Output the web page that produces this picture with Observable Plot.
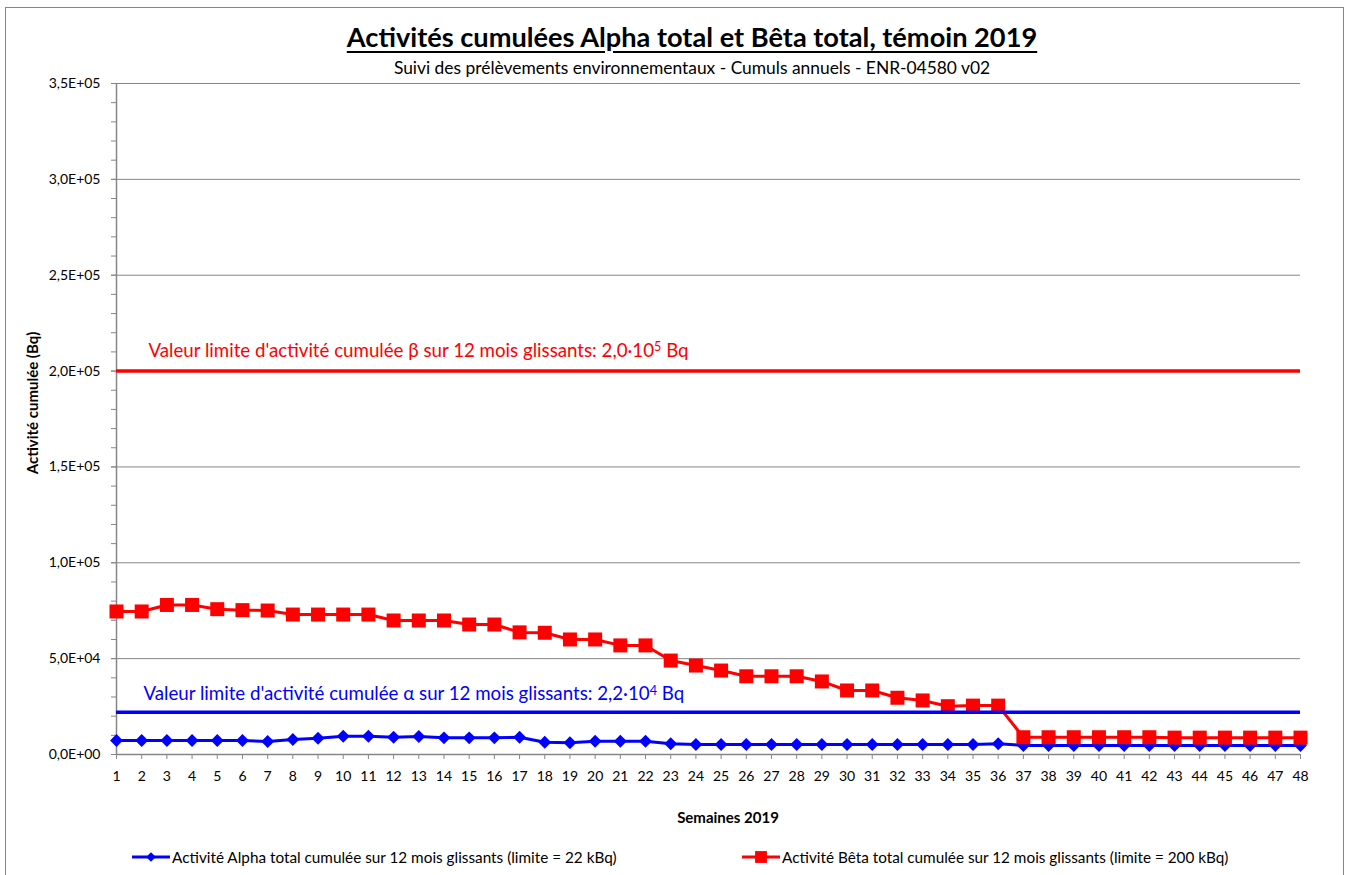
<!DOCTYPE html>
<html>
<head>
<meta charset="utf-8">
<script src="https://cdn.jsdelivr.net/npm/d3@7"></script>
<script src="https://cdn.jsdelivr.net/npm/@observablehq/plot@0.6"></script>
<style>
  html, body { margin: 0; padding: 0; background: #fff; width: 1350px; height: 875px; overflow: hidden; }
  body { position: relative; font-family: Lato, "Open Sans", sans-serif; color: #000; }
  .frame { position: absolute; left: 5px; top: 7px; width: 1339px; height: 900px; border: 1px solid #868686; box-sizing: border-box; }
  .abs { position: absolute; white-space: nowrap; }
  #title { left: 0; width: 1384px; top: 21px; text-align: center; font-weight: bold; font-size: 27.2px; line-height: 32px; text-decoration: underline; text-underline-offset: 4px; text-decoration-thickness: 2px; }
  #subtitle { left: 0; width: 1384px; top: 57px; text-align: center; font-size: 17.4px; line-height: 22px; }
  #chart { left: 0; top: 60px; }
  #xlabel { left: 628px; width: 200px; top: 807px; text-align: center; font-weight: bold; font-size: 15px; line-height: 20px; }
  #ylabel { left: 32px; top: 403px; transform: translate(-50%, -50%) rotate(-90deg); font-weight: bold; font-size: 15px; line-height: 20px; }
  .leg { top: 847px; font-size: 15.3px; line-height: 20px; display: flex; align-items: center; }
  .leg svg { margin-right: 1px; }
</style>
</head>
<body>
<div class="frame"></div>
<div id="title" class="abs"></div>
<div id="subtitle" class="abs"></div>
<div id="chart" class="abs"></div>
<div id="xlabel" class="abs"></div>
<div id="ylabel" class="abs"></div>
<div id="legAlpha" class="abs leg" style="left:131px"></div>
<div id="legBeta" class="abs leg" style="left:741px"></div>
<script>
// ---- data ----
const weeks = [1,2,3,4,5,6,7,8,9,10,11,12,13,14,15,16,17,18,19,20,21,22,23,24,
               25,26,27,28,29,30,31,32,33,34,35,36,37,38,39,40,41,42,43,44,45,46,47,48];
const alpha = [7300,7300,7300,7300,7300,7300,6800,7800,8500,9500,9500,9000,9400,8700,8700,8700,9000,6400,
               6100,6900,6900,6900,5600,5200,5200,5200,5200,5200,5200,5200,5200,5200,5200,5200,5200,5600,
               4700,4700,4700,4700,4700,4700,4700,4700,4700,4700,4700,4700];
const beta = [74600,74600,78000,78000,75800,75300,75100,73000,73000,73000,73000,69900,69900,69900,67800,67800,
              63700,63500,60000,60000,56900,56900,49000,46400,43800,40800,40800,40800,38100,33400,33400,29600,
              28200,25200,25500,25500,9000,9000,9000,9000,9000,9000,8800,8800,8800,8800,8800,8800];
const alphaLimit = 22000;
const betaLimit = 200000;
const yTicks = [0,50000,100000,150000,200000,250000,300000,350000];
const yTickLabels = ["0,0E+00","5,0E+04","1,0E+05","1,5E+05","2,0E+05","2,5E+05","3,0E+05","3,5E+05"];
const yMinorTicks = d3.range(0, 350001, 10000);

const titleText = "Activités cumulées Alpha total et Bêta total, témoin 2019";
const subtitleText = "Suivi des prélèvements environnementaux - Cumuls annuels - ENR-04580 v02";
const xLabel = "Semaines 2019";
const yLabel = "Activité cumulée (Bq)";
const alphaSeriesName = "Activité Alpha total cumulée sur 12 mois glissants (limite = 22 kBq)";
const betaSeriesName = "Activité Bêta total cumulée sur 12 mois glissants (limite = 200 kBq)";
const alphaLimitLabel = ["Valeur limite d'activité cumulée α sur 12 mois glissants: 2,2·10", "4", " Bq"];
const betaLimitLabel = ["Valeur limite d'activité cumulée β sur 12 mois glissants: 2,0·10", "5", " Bq"];

const RED = "#ff0000", BLUE = "#0000ff", GRAY = "#868686";
const rows = weeks.map((w, i) => ({week: w, alpha: alpha[i], beta: beta[i]}));

document.getElementById("title").textContent = titleText;
document.getElementById("subtitle").textContent = subtitleText;
document.getElementById("xlabel").textContent = xLabel;
document.getElementById("ylabel").textContent = yLabel;

const chart = Plot.plot({
  width: 1350,
  height: 770,
  marginLeft: 116,
  marginRight: 50,
  marginTop: 23,
  marginBottom: 76,
  x: {type: "linear", domain: [weeks[0], weeks[weeks.length - 1]]},
  y: {type: "linear", domain: [0, 350000]},
  style: {fontFamily: "Lato, 'Open Sans', sans-serif", fontSize: "14px", color: "#000", background: "transparent", overflow: "visible"},
  marks: [
    Plot.ruleY(yTicks.slice(1), {stroke: GRAY, strokeWidth: 1}),
    Plot.axisY({ticks: yMinorTicks, tickSize: 5, text: null, stroke: GRAY, label: null}),
    Plot.axisY({ticks: yTicks, tickSize: 5, tickPadding: 11, stroke: GRAY, label: null,
                tickFormat: d => yTickLabels[yTicks.indexOf(d)]}),
    Plot.axisX({ticks: weeks, tickSize: 5, tickPadding: 12, stroke: GRAY, label: null, tickFormat: d => String(d)}),
    Plot.ruleX([weeks[0]], {stroke: GRAY, strokeWidth: 1.5}),
    Plot.ruleY([0], {stroke: GRAY, strokeWidth: 1.5}),
    Plot.line(rows, {x: "week", y: "alpha", stroke: BLUE, strokeWidth: 3}),
    Plot.dot(rows, {x: "week", y: "alpha", symbol: "diamond2", r: 5.8, fill: BLUE, stroke: "none"}),
    Plot.line(rows, {x: "week", y: "beta", stroke: RED, strokeWidth: 3}),
    Plot.dot(rows, {x: "week", y: "beta", symbol: "square", r: 7.9, fill: RED, stroke: "none"}),
    Plot.ruleY([betaLimit], {x1: weeks[0], x2: weeks[weeks.length - 1], stroke: RED, strokeWidth: 3.5}),
    Plot.ruleY([alphaLimit], {x1: weeks[0], x2: weeks[weeks.length - 1], stroke: BLUE, strokeWidth: 3.5}),
    Plot.text([betaLimit], {x: weeks[0], y: d => d, text: () => betaLimitLabel.join("^"), dx: 32, dy: -20,
                            textAnchor: "start", fill: RED, fontSize: 18.7}),
    Plot.text([alphaLimit], {x: weeks[0], y: d => d, text: () => alphaLimitLabel.join("^"), dx: 27, dy: -18,
                             textAnchor: "start", fill: BLUE, fontSize: 18.7})
  ]
});
// render exponents as superscripts (real text kept)
d3.select(chart).selectAll("text").each(function () {
  const t = this.textContent;
  if (t.includes("^")) {
    const [a, e, b] = t.split("^");
    const sel = d3.select(this);
    sel.text(null);
    sel.append("tspan").text(a);
    sel.append("tspan").attr("dy", "-0.45em").attr("font-size", "0.68em").text(e);
    sel.append("tspan").attr("dy", "0.306em").text(b);
  }
});
document.getElementById("chart").appendChild(chart);

function legendSymbol(color, symbol, size) {
  const svg = d3.create("svg").attr("width", 40).attr("height", 16);
  svg.append("line").attr("x1", 1).attr("x2", 39).attr("y1", 8).attr("y2", 8)
     .attr("stroke", color).attr("stroke-width", 3);
  svg.append("path").attr("transform", "translate(20,8)")
     .attr("d", d3.symbol(symbol, size)()).attr("fill", color);
  return svg.node();
}
const la = document.getElementById("legAlpha");
la.appendChild(legendSymbol(BLUE, d3.symbolDiamond2, 60));
la.appendChild(document.createTextNode(alphaSeriesName));
const lb = document.getElementById("legBeta");
lb.appendChild(legendSymbol(RED, d3.symbolSquare, 140));
lb.appendChild(document.createTextNode(betaSeriesName));
</script>
</body>
</html>
